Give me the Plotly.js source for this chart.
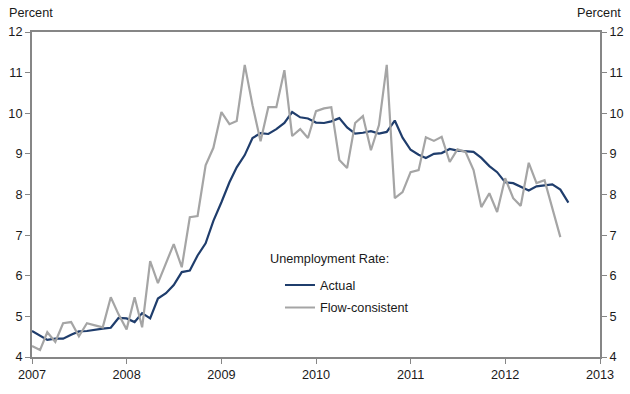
<!DOCTYPE html>
<html>
<head>
<meta charset="utf-8">
<script src="https://cdn.plot.ly/plotly-3.0.1.min.js"></script>
<style>html,body{margin:0;padding:0;background:#fff;}#chart{width:630px;height:394px;}</style>
</head>
<body>
<div id="chart"></div>
<script>
// Monthly series, starting January 2007
const startYear = 2007;
const actualValues = [
  4.64, 4.52, 4.42, 4.45, 4.45, 4.55, 4.63, 4.64, 4.68, 4.70, 4.72, 4.96,
  4.95, 4.86, 5.08, 4.95, 5.44, 5.57, 5.77, 6.09, 6.13, 6.50, 6.80, 7.35,
  7.81, 8.30, 8.67, 8.97, 9.39, 9.51, 9.49, 9.61, 9.76, 10.03, 9.90, 9.87,
  9.77, 9.76, 9.80, 9.88, 9.65, 9.50, 9.52, 9.56, 9.50, 9.54, 9.82, 9.40,
  9.10, 8.98, 8.90, 9.00, 9.02, 9.12, 9.08, 9.07, 9.05, 8.90, 8.70, 8.55,
  8.30, 8.28, 8.20, 8.10, 8.20, 8.22, 8.25, 8.12, 7.80
];
const flowValues = [
  4.27, 4.17, 4.61, 4.37, 4.83, 4.86, 4.51, 4.83, 4.78, 4.73, 5.47, 5.05,
  4.68, 5.47, 4.73, 6.36, 5.82, 6.30, 6.78, 6.21, 7.44, 7.47, 8.72, 9.15,
  10.03, 9.73, 9.81, 11.19, 10.20, 9.31, 10.15, 10.15, 11.06, 9.44, 9.61, 9.39,
  10.05, 10.12, 10.15, 8.85, 8.65, 9.76, 9.93, 9.09, 9.71, 11.19, 7.91, 8.06,
  8.55, 8.60, 9.41, 9.32, 9.42, 8.80, 9.11, 9.05, 8.60, 7.69, 8.03, 7.57,
  8.40, 7.91, 7.72, 8.78, 8.28, 8.35, 7.65, 6.95
];
const seriesNames = ["Actual", "Flow-consistent"];
const legendTitle = "Unemployment Rate:";
const yTickValues = [4, 5, 6, 7, 8, 9, 10, 11, 12];
const axisTitle = "Percent";

function monthDates(n) {
  const out = [];
  for (let i = 0; i < n; i++) {
    const y = startYear + Math.floor(i / 12);
    const m = (i % 12) + 1;
    out.push(y + "-" + (m < 10 ? "0" + m : m) + "-01");
  }
  return out;
}

const FONT = "Liberation Sans, Arial, sans-serif";
const FS = 12.7;
const AXIS_COLOR = "#868686";
const TEXT_COLOR = "#1a1a1a";

const traces = [
  {
    x: monthDates(actualValues.length), y: actualValues, name: seriesNames[0],
    type: "scatter", mode: "lines", yaxis: "y", legendgroup: "a",
    line: {color: "#1F3D6C", width: 2.2}
  },
  {
    x: monthDates(flowValues.length), y: flowValues, name: seriesNames[1],
    type: "scatter", mode: "lines", yaxis: "y2", legendgroup: "b",
    line: {color: "#A5A5A5", width: 2.2}
  }
];

const yCommon = {
  range: [4, 12], tickvals: yTickValues, ticktext: yTickValues.map(String),
  showgrid: false, zeroline: false, showline: true, linecolor: AXIS_COLOR, linewidth: 2,
  ticks: "outside", ticklen: 5, tickwidth: 1, tickcolor: AXIS_COLOR,
  tickfont: {family: FONT, size: FS, color: TEXT_COLOR}, fixedrange: true
};

const layout = {
  width: 630, height: 394,
  margin: {l: 32, r: 30, t: 32, b: 37},
  paper_bgcolor: "#ffffff", plot_bgcolor: "#ffffff",
  font: {family: FONT, size: FS, color: TEXT_COLOR},
  showlegend: true,
  legend: {
    x: 0.4366, y: 0.267, xanchor: "left", yanchor: "top",
    bgcolor: "rgba(0,0,0,0)", borderwidth: 0,
    font: {family: FONT, size: FS, color: TEXT_COLOR},
    traceorder: "grouped", tracegroupgap: 3, itemwidth: 30
  },
  xaxis: {
    type: "date", range: ["2007-01-01", "2013-01-01"],
    dtick: "M12", tick0: "2007-01-01", tickformat: "%Y",
    showgrid: false, zeroline: false, showline: true, linecolor: AXIS_COLOR, linewidth: 2,
    ticks: "outside", ticklen: 5, tickwidth: 1, tickcolor: AXIS_COLOR,
    tickfont: {family: FONT, size: FS, color: TEXT_COLOR}, mirror: true
  },
  yaxis: Object.assign({}, yCommon, {side: "left"}),
  yaxis2: Object.assign({}, yCommon, {side: "right", overlaying: "y"}),
  annotations: [
    {text: axisTitle, xref: "paper", yref: "paper", x: 0, y: 1, xshift: -25, yshift: 19,
     xanchor: "left", yanchor: "middle", showarrow: false, font: {family: FONT, size: FS, color: TEXT_COLOR}},
    {text: axisTitle, xref: "paper", yref: "paper", x: 1, y: 1, xshift: 23, yshift: 19,
     xanchor: "right", yanchor: "middle", showarrow: false, font: {family: FONT, size: FS, color: TEXT_COLOR}},
    {text: legendTitle, xref: "paper", yref: "paper", x: 0.4155, y: 0.3015,
     xanchor: "left", yanchor: "middle", showarrow: false, font: {family: FONT, size: FS, color: TEXT_COLOR}}
  ]
};

Plotly.newPlot("chart", traces, layout, {staticPlot: true, displayModeBar: false});
</script>
</body>
</html>
